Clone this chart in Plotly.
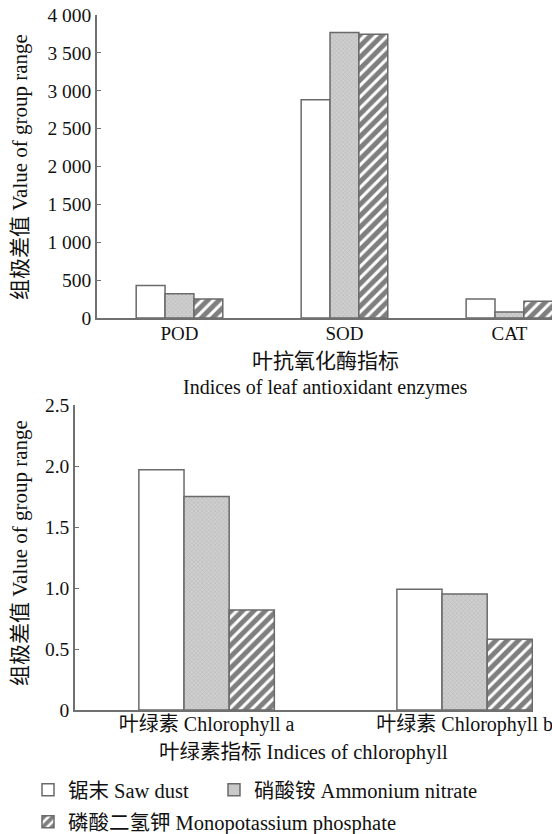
import plotly.graph_objects as go

# ---- data ----
enzymes = ["POD", "SOD", "CAT"]
saw_enz = [430, 2880, 250]
amm_enz = [320, 3770, 80]
kp_enz = [250, 3745, 220]

chloro = ["叶绿素 Chlorophyll a", "叶绿素 Chlorophyll b"]
saw_chl = [1.97, 0.99]
amm_chl = [1.75, 0.95]
kp_chl = [0.82, 0.58]

series_names = ["锯末 Saw dust", "硝酸铵 Ammonium nitrate", "磷酸二氢钾 Monopotassium phosphate"]

y1_vals = [0, 500, 1000, 1500, 2000, 2500, 3000, 3500, 4000]
y1_text = ["0", "500", "1 000", "1 500", "2 000", "2 500", "3 000", "3 500", "4 000"]
y2_vals = [0, 0.5, 1.0, 1.5, 2.0, 2.5]
y2_text = ["0", "0.5", "1.0", "1.5", "2.0", "2.5"]

FONT = "Liberation Serif, 'Noto Sans CJK SC', serif"
TXT = "#111111"
OUTLINE = dict(color="#6a6a6a", width=1.5)

styles = [
    dict(color="white", line=OUTLINE),
    dict(color="#c6c6c6", line=OUTLINE,
         pattern=dict(shape="x", size=3, solidity=0.3, fgcolor="#9a9a9a", bgcolor="#cfcfcf")),
    dict(color="white", line=OUTLINE,
         pattern=dict(shape="/", size=8, solidity=0.62, fgcolor="#000000", bgcolor="white")),
]

W, H = 552, 834
fig = go.Figure()

top_sets = [saw_enz, amm_enz, kp_enz]
bot_sets = [saw_chl, amm_chl, kp_chl]
legends = ["legend", "legend3", "legend2"]
for i in range(3):
    fig.add_trace(go.Bar(x=enzymes, y=top_sets[i], name=series_names[i], marker=styles[i],
                         xaxis="x", yaxis="y", legend=legends[i], showlegend=True))
for i in range(3):
    fig.add_trace(go.Bar(x=chloro, y=bot_sets[i], name=series_names[i], marker=styles[i],
                         xaxis="x2", yaxis="y2", showlegend=False))

axis_common = dict(showline=True, linecolor="#707070", linewidth=1.5, showgrid=False,
                   zeroline=False, automargin=False)


def px_x(v):
    return v / W


def px_y(v):
    return 1 - v / H


legend_font = dict(family=FONT, size=20.5, color=TXT)


def make_legend(x, y):
    return dict(orientation="h", x=px_x(x), xanchor="left", y=px_y(y), yanchor="middle",
                bgcolor="rgba(0,0,0,0)", font=legend_font, itemclick=False,
                itemdoubleclick=False)


fig.update_layout(
    width=W, height=H,
    margin=dict(l=0, r=0, t=0, b=0, autoexpand=False),
    paper_bgcolor="white", plot_bgcolor="white",
    barmode="group", bargap=0.475, bargroupgap=0,
    font=dict(family=FONT, size=19, color=TXT),
    xaxis=dict(**axis_common, domain=[px_x(97), 1.0], anchor="y", type="category",
               range=[-0.5, 2.258], ticks="", ticklabelstandoff=-3,
               tickfont=dict(family=FONT, size=19, color=TXT)),
    yaxis=dict(**axis_common, domain=[px_y(318), px_y(15)], anchor="x",
               range=[0, 4000], tickvals=y1_vals, ticktext=y1_text,
               ticks="inside", ticklen=4, tickcolor="#707070",
               tickfont=dict(family=FONT, size=19.5, color=TXT)),
    xaxis2=dict(**axis_common, domain=[px_x(75), px_x(533)], anchor="y2", type="category",
                range=[-0.51, 1.265], ticks="", ticklabelstandoff=-5,
                tickfont=dict(family=FONT, size=20, color=TXT)),
    yaxis2=dict(**axis_common, domain=[px_y(710), px_y(405)], anchor="x2",
                range=[0, 2.5], tickvals=y2_vals, ticktext=y2_text,
                ticks="inside", ticklen=4, tickcolor="#707070",
                tickfont=dict(family=FONT, size=19.5, color=TXT)),
    legend=make_legend(28, 790),
    legend3=make_legend(214, 790),
    legend2=make_legend(28, 822),
    annotations=[
        dict(text="组极差值 Value of group range", xref="paper", yref="paper",
             x=px_x(20), y=px_y(167), xanchor="center", yanchor="middle",
             textangle=-90, showarrow=False, font=dict(family=FONT, size=21, color=TXT)),
        dict(text="叶抗氧化酶指标", xref="paper", yref="paper",
             x=px_x(325), y=px_y(361), xanchor="center", yanchor="middle",
             showarrow=False, font=dict(family=FONT, size=21, color=TXT)),
        dict(text="Indices of leaf antioxidant enzymes", xref="paper", yref="paper",
             x=px_x(325), y=px_y(387), xanchor="center", yanchor="middle",
             showarrow=False, font=dict(family=FONT, size=20, color=TXT)),
        dict(text="组极差值 Value of group range", xref="paper", yref="paper",
             x=px_x(20), y=px_y(553), xanchor="center", yanchor="middle",
             textangle=-90, showarrow=False, font=dict(family=FONT, size=21, color=TXT)),
        dict(text="叶绿素指标 Indices of chlorophyll", xref="paper", yref="paper",
             x=px_x(303), y=px_y(752), xanchor="center", yanchor="middle",
             showarrow=False, font=dict(family=FONT, size=20.5, color=TXT)),
    ],
)

fig.write_html("out.html", config={"displayModeBar": False},
               post_script="document.body.style.margin='0';")
